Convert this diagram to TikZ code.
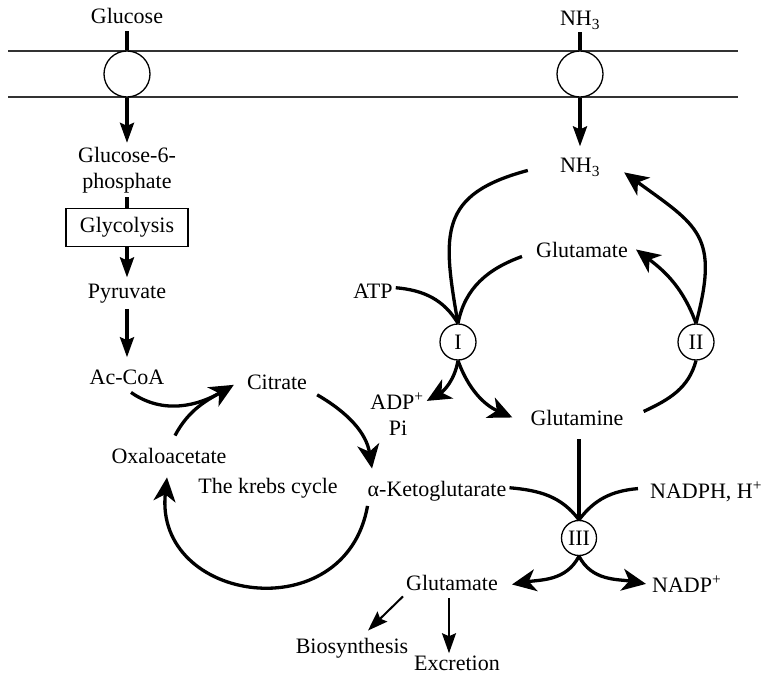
\documentclass[tikz,border=0pt]{standalone}
\usepackage{fontspec}
\setmainfont{Liberation Serif}
\usetikzlibrary{arrows.meta}

\begin{document}
\begin{tikzpicture}[x=1pt, y=1pt,
    font=\fontsize{22}{26}\selectfont,
    membrane/.style={draw=black!80, line width=1.4pt},
    pore/.style={circle, draw, line width=1.3pt, fill=white, minimum size=46pt},
    enzyme/.style={circle, draw, line width=1.3pt, fill=white, minimum size=36pt},
    stepbox/.style={draw, line width=1.2pt, inner xsep=14pt, inner ysep=9pt},
    flowarrow/.style={line width=3.3pt, -{Stealth[length=20pt, width=14pt, inset=3pt]}},
    curvearrow/.style={line width=3.3pt, -{Stealth[length=24pt, width=22pt, inset=7pt]}},
    thickline/.style={line width=3.3pt},
    thinarrow/.style={line width=2pt, -{Stealth[length=20pt, width=14pt, inset=3pt]}}]
    \tikzstyle{every node}+=[inner sep=0pt]
    \useasboundingbox (0,0) rectangle (761,-674);
    % membrane
    \draw [membrane] (8,-51) -- (738,-51);
    \draw [membrane] (8,-97) -- (738,-97);
    \node [pore] (poreg) at (127,-74) {};
    \node [pore] (poren) at (580,-74) {};
    \node [anchor=base] (glucose) at (127,-24) {Glucose};
    \node [anchor=base] (nhout) at (580,-26) {NH\textsubscript{3}};
    % glucose side
    \node [align=center] (gsix) at (127,-170) {Glucose-6-\\phosphate};
    \node [stepbox, anchor=base] (glyco) at (127,-233) {Glycolysis};
    \node [anchor=base] (pyr) at (127,-298) {Pyruvate};
    \node [anchor=base] (acoa) at (127,-384) {Ac-CoA};
    \node [anchor=base] (citrate) at (277,-389) {Citrate};
    \node [anchor=base] (oxalo) at (169,-463) {Oxaloacetate};
    \node [anchor=base] (krebs) at (268,-493) {The krebs cycle};
    \node [anchor=base] (akg) at (437,-496) {α-Ketoglutarate};
    % ammonia side
    \node [anchor=base] (nh) at (580,-173) {NH\textsubscript{3}};
    \node [anchor=base] (glu1) at (582,-257) {Glutamate};
    \node [anchor=base] (atp) at (373,-298) {ATP};
    \node [enzyme] (enzI) at (458,-342) {I};
    \node [enzyme] (enzII) at (696,-342) {II};
    \node [anchor=base] (adp) at (397,-409) {ADP\textsuperscript{+}};
    \node [anchor=base] (pi) at (398,-435) {Pi};
    \node [anchor=base] (glutamine) at (577,-425) {Glutamine};
    \node [anchor=base west] (nadph) at (650,-498) {NADPH, H\textsuperscript{+}};
    \node [enzyme, minimum size=35pt] (enzIII) at (579,-538) {III};
    \node [anchor=base] (glu2) at (452,-590) {Glutamate};
    \node [anchor=base west] (nadp) at (652,-592) {NADP\textsuperscript{+}};
    \node [anchor=base] (biosyn) at (352,-653) {Biosynthesis};
    \node [anchor=base] (excr) at (457,-670) {Excretion};
    % transport
    \draw [thickline, shorten <=7pt] (glucose.south) -- (poreg.north);
    \draw [thickline, shorten <=3pt] (nhout.south) -- (poren.north);
    \draw [flowarrow, shorten >=4pt] (poreg.south) -- (gsix.north);
    \draw [flowarrow, shorten >=12pt] (poren.south) -- (nh.north);
    % glycolysis
    \draw [thickline, shorten <=4pt] (gsix.south) -- (glyco.north);
    \draw [flowarrow, shorten >=6pt] (glyco.south) -- (pyr.north);
    \draw [flowarrow, shorten <=6pt, shorten >=12pt] (pyr.south) -- (acoa.north);
    % krebs cycle
    \draw [curvearrow] ([shift={(4,-8)}]acoa.south) to[out=-35, in=-150] ([shift={(-13,-3)}]citrate.west);
    \draw [thickline, shorten >=12pt] ([shift={(6,12)}]oxalo.north) to[out=62, in=-150] ([shift={(-13,-3)}]citrate.west);
    \draw [curvearrow] ([shift={(10,-13)}]citrate.east) to[out=-30, in=99] ([shift={(4.5,12)}]akg.north west);
    \draw [curvearrow] ([yshift=-5]akg.south west) to[out=-100, in=-96, looseness=1.6] ([shift={(-2,-14)}]oxalo.south);
    % enzyme I and II
    \draw [thickline] ([shift={(3,3)}]atp.east) to[out=-5, in=121] (enzI.north);
    \draw [thickline] ([shift={(-14,-7)}]glu1.west) to[out=200, in=79] (enzI.north);
    \draw [thickline] ([shift={(-32,-3)}]nh.west) to[out=195, in=100, looseness=1.4] (enzI.north);
    \draw [curvearrow] (enzI.south) to[out=-100, in=30] ([xshift=3]adp.east);
    \draw [curvearrow] (enzI.south) to[out=-70, in=156] ([xshift=-18]glutamine.west);
    \draw [thickline] ([shift={(20,6)}]glutamine.east) to[out=25, in=-105] (enzII.south);
    \draw [curvearrow] (enzII.north) to[out=75, in=-36, looseness=1.4] ([shift={(24,-5)}]nh.east);
    \draw [curvearrow] (enzII.north) to[out=110, in=-37] ([xshift=8]glu1.east);
    % enzyme III
    \draw [thickline, shorten >=14pt] (enzIII.north) -- (enzIII.north |- glutamine.south);
    \draw [thickline] ([shift={(3,3)}]akg.east) to[out=-5, in=127] (enzIII.north);
    \draw [thickline] ([shift={(-12,3)}]nadph.west) to[out=185, in=53] (enzIII.north);
    \draw [curvearrow] (enzIII.south) to[out=-117, in=10] ([shift={(14,-2)}]glu2.east);
    \draw [curvearrow] (enzIII.south) to[out=-63, in=170] ([xshift=-6]nadp.west);
    % fate of glutamate
    \draw [thinarrow] ([shift={(-49,-6)}]glu2.south) -- ([shift={(16,7)}]biosyn.north);
    \draw [thinarrow, shorten >=10pt] ([shift={(-3,-8)}]glu2.south) -- ([shift={(-3,-8)}]glu2.south |- excr.north);
\end{tikzpicture}
\end{document}
